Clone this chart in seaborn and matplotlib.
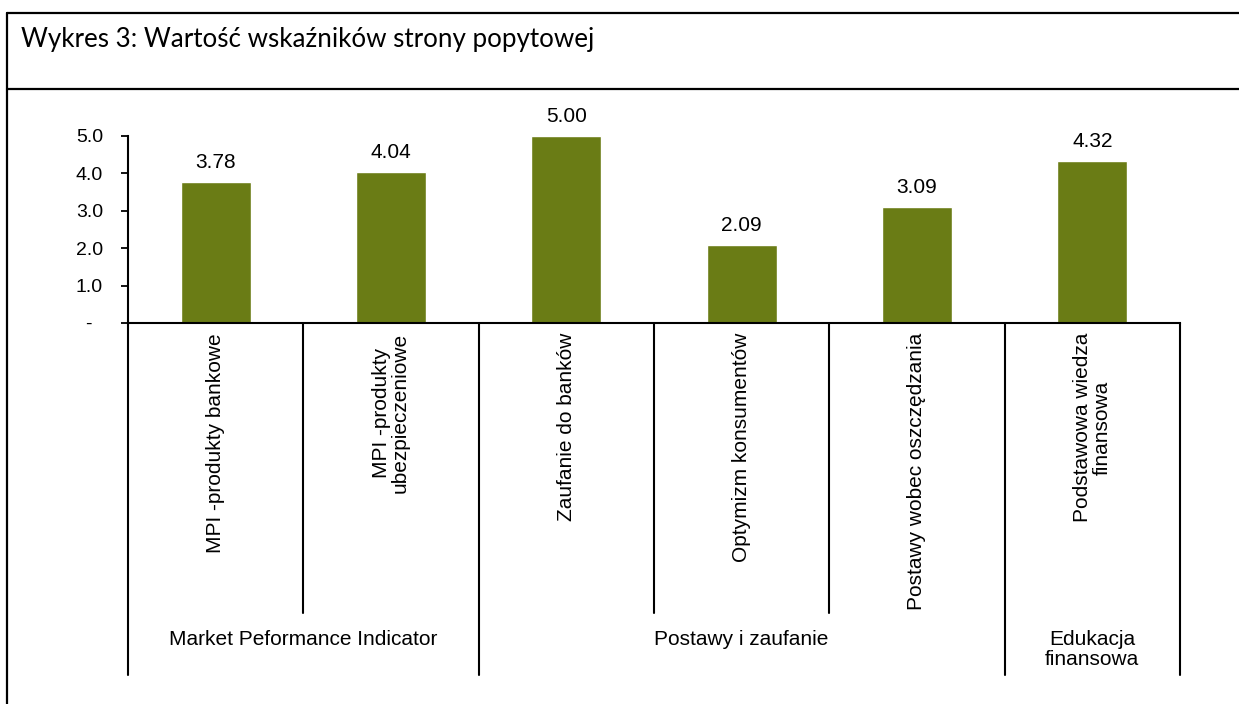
import matplotlib
matplotlib.use("Agg")
import matplotlib.pyplot as plt
import seaborn as sns
from matplotlib.lines import Line2D

# data
categories = ["MPI -produkty bankowe", "MPI -produkty\nubezpieczeniowe", "Zaufanie do banków",
              "Optymizm konsumentów", "Postawy wobec oszczędzania", "Podstawowa wiedza\nfinansowa"]
values = [3.78, 4.04, 5.00, 2.09, 3.09, 4.32]
groups = ["Market Peformance Indicator", "Postawy i zaufanie", "Edukacja\nfinansowa"]
group_sizes = [2, 3, 1]
y_ticks = [0, 1, 2, 3, 4, 5]
y_ticklabels = ["-  ", "1.0", "2.0", "3.0", "4.0", "5.0"]
title = "Wykres 3: Wartość wskaźników strony popytowej"

sns.set_style("white")
plt.rcParams["font.family"] = ["Liberation Sans", "DejaVu Sans"]
plt.rcParams["text.color"] = "black"
plt.rcParams["ytick.color"] = "black"

W, H = 1239, 704
fig = plt.figure(figsize=(W / 100, H / 100), dpi=100)

def fx(px):
    return px / W

def fy(py):
    return 1 - py / H

# outer frame and title box
for xs, ys in [((7, 7), (13, 704)), ((7, 1239), (13, 13)), ((7, 1239), (89, 89))]:
    fig.add_artist(Line2D([fx(xs[0]), fx(xs[1])], [fy(ys[0]), fy(ys[1])], color="black", lw=1.6))
fig.text(fx(21), fy(39), title, fontsize=18.7, family=["Lato", "DejaVu Sans"], va="center", ha="left")

ax_left, ax_right, ax_bottom, ax_top = 128, 1180, 323, 136
ax = fig.add_axes([fx(ax_left), fy(ax_bottom), fx(ax_right - ax_left), (ax_bottom - ax_top) / H])

sns.barplot(x=list(range(len(values))), y=values, color="#6a7c15", saturation=1, width=0.4, ax=ax)
ax.set_xlim(-0.5, len(values) - 0.5)
ax.set_ylim(0, 5)
ax.set_yticks(y_ticks)
ax.set_yticklabels(y_ticklabels, fontsize=14)
ax.set_xticks([])
ax.set_xlabel("")
ax.set_ylabel("")
ax.tick_params(axis="y", left=True, length=5, width=1.3, color="black", pad=13)
for s in ["top", "right"]:
    ax.spines[s].set_visible(False)
for s in ["left", "bottom"]:
    ax.spines[s].set_color("black")
    ax.spines[s].set_linewidth(1.5)

for i, v in enumerate(values):
    ax.text(i, v + 0.52, f"{v:.2f}", ha="center", va="center", fontsize=15, clip_on=False)

# category axis below: labels, separators, groups
ph = ax_bottom - ax_top

def ay(py):
    return (ax_bottom - py) / ph

tr = ax.get_xaxis_transform()
for i, c in enumerate(categories):
    ax.text(i, ay(333), c, rotation=90, ha="center", va="top", fontsize=15,
            transform=tr, multialignment="center", linespacing=1.0)

bounds = [0]
for g in group_sizes:
    bounds.append(bounds[-1] + g)
for k in range(len(categories) + 1):
    bottom = 675 if k in bounds else 613
    ax.plot([k - 0.5, k - 0.5], [0, ay(bottom)], color="black", lw=1.5, transform=tr, clip_on=False)

for g, a, b in zip(groups, bounds[:-1], bounds[1:]):
    ax.text((a + b) / 2 - 0.5, ay(630), g, ha="center", va="top", fontsize=15,
            transform=tr, linespacing=1.05)

fig.savefig("out.png", dpi=100)
